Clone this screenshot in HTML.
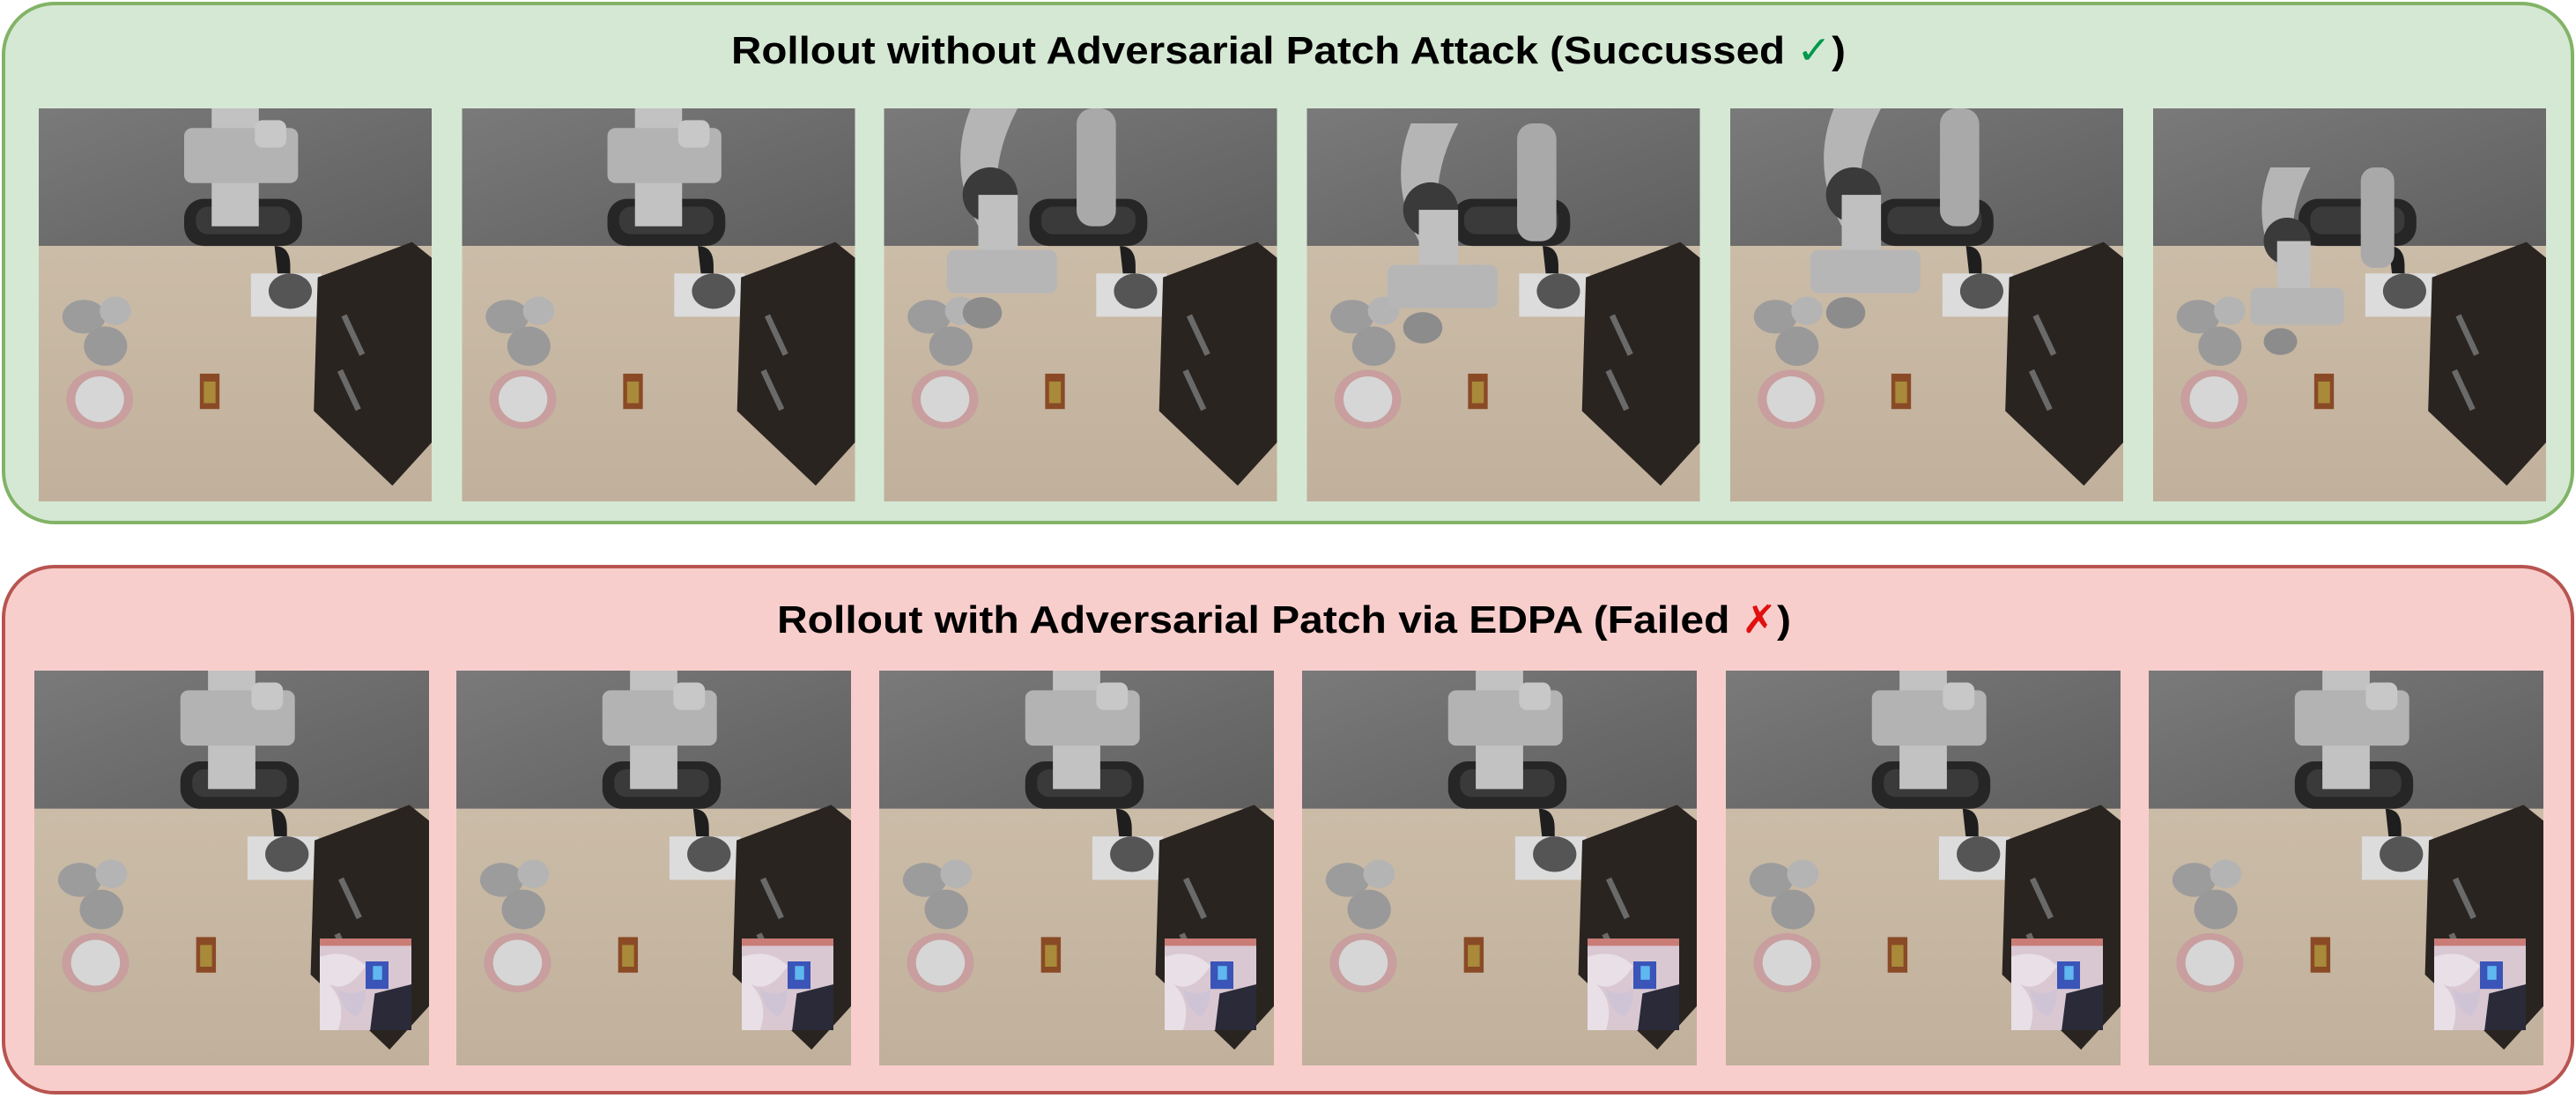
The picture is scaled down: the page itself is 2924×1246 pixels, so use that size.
<!DOCTYPE html>
<html><head><meta charset="utf-8"><style>
html,body{margin:0;padding:0;background:#fff;}
svg{display:block;}
text{font-family:"Liberation Sans",Arial,sans-serif;font-weight:bold;}
</style></head><body>
<svg width="2924" height="1246" viewBox="0 0 2924 1246" xmlns="http://www.w3.org/2000/svg">
<defs>
<linearGradient id="wall" x1="0" y1="0" x2="1" y2="1"><stop offset="0" stop-color="#7a7a7a"/><stop offset="1" stop-color="#5f5f5f"/></linearGradient>
<linearGradient id="floor" x1="0" y1="0" x2="0" y2="1"><stop offset="0" stop-color="#cbbca8"/><stop offset="1" stop-color="#c0b09c"/></linearGradient>
<symbol id="scene" viewBox="0 0 100 100">
<rect x="0" y="0" width="100" height="35" fill="url(#wall)"/>
<rect x="0" y="35" width="100" height="65" fill="url(#floor)"/>
<rect x="37" y="23" width="30" height="12" rx="5" fill="#262626"/>
<rect x="40" y="25" width="24" height="7" rx="3" fill="#3a3a3a"/>
<path d="M60 35 q4 0 4 5 v4 h-3 z" fill="#1e1e1e"/>
<rect x="54" y="42" width="18" height="11" fill="#dcdcdc"/>
<ellipse cx="64" cy="46.5" rx="5.5" ry="4.5" fill="#555"/>
<polygon points="71,43 95,34 100,38 100,85 90,96 70,77" fill="#2a2420"/>
<rect x="77" y="53" width="1.5" height="11" fill="#6a6a6a" transform="rotate(-25 77 53)"/>
<rect x="76" y="67" width="1.5" height="11" fill="#6a6a6a" transform="rotate(-25 76 67)"/>
<ellipse cx="11.5" cy="53" rx="5.5" ry="4.3" fill="#9c9c9c"/>
<ellipse cx="19.5" cy="51.5" rx="4" ry="3.6" fill="#b4b4b4"/>
<ellipse cx="17" cy="60.5" rx="5.5" ry="5" fill="#999"/>
<ellipse cx="15.5" cy="74" rx="8.5" ry="7.5" fill="#c89e9e"/>
<ellipse cx="15.5" cy="74" rx="6.2" ry="5.8" fill="#d6d6d6"/>
<rect x="41" y="67.5" width="5" height="9" fill="#8a4a26"/>
<rect x="42" y="69.5" width="3" height="5.5" fill="#a88a3a"/>
</symbol>
<symbol id="armUp" viewBox="0 0 100 100">
<rect x="44" y="0" width="12" height="30" fill="#c2c2c2"/>
<rect x="37" y="5" width="29" height="14" rx="2" fill="#b3b3b3"/>
<rect x="55" y="3" width="8" height="7" rx="2" fill="#c8c8c8"/>
</symbol>
<symbol id="armDown" viewBox="0 0 100 100">
<rect x="49" y="0" width="10" height="30" rx="4" fill="#a9a9a9"/>
<path d="M22 0 q-6 15 2 30 l6 0 q-4 -15 4 -30z" fill="#b5b5b5"/>
<circle cx="27" cy="22" r="7" fill="#3a3a3a"/>
<rect x="24" y="22" width="10" height="22" fill="#c0c0c0"/>
<rect x="16" y="36" width="28" height="11" rx="2" fill="#b6b6b6"/>
<ellipse cx="25" cy="52" rx="5" ry="4" fill="#8c8c8c"/>
</symbol>
<symbol id="patch" viewBox="0 0 100 100">
<rect width="100" height="100" fill="#d9c8d2"/>
<path d="M0 20 q30 -10 50 10 q-20 30 -40 20 q20 20 10 50 H0z" fill="#e9dfe6"/>
<rect x="50" y="25" width="25" height="30" fill="#3a54b8"/>
<rect x="58" y="30" width="10" height="15" fill="#5fb8f0"/>
<path d="M60 60 L100 50 V100 H55z" fill="#2a2a38"/>
<rect x="0" y="0" width="100" height="8" fill="#c04a3a" opacity=".6"/>
<path d="M20 55 q15 10 30 0 q0 20 -10 30 q-15 -5 -20 -30z" fill="#cfc4d6"/>
</symbol>
</defs>

<rect x="4" y="4" width="2916" height="589" rx="58" fill="#d5e8d4" stroke="#82b366" stroke-width="4"/>
<rect x="4" y="643" width="2916" height="597" rx="58" fill="#f8cecc" stroke="#b85450" stroke-width="4"/>

<text x="830" y="72" font-size="44" textLength="1265" lengthAdjust="spacingAndGlyphs" fill="#000">Rollout without Adversarial Patch Attack (Succussed <tspan fill="#00994d" font-weight="normal">✓</tspan>)</text>
<text x="882" y="718" font-size="44" textLength="1151" lengthAdjust="spacingAndGlyphs" fill="#000">Rollout with Adversarial Patch via EDPA (Failed <tspan fill="#e01010" font-weight="normal">✗</tspan>)</text>

<!-- top row -->
<use href="#scene" x="43" y="123" width="448" height="446"/><use href="#armUp" x="43" y="123" width="448" height="446"/>
<use href="#scene" x="524" y="123" width="447" height="446"/><use href="#armUp" x="524" y="123" width="447" height="446"/>
<use href="#scene" x="1003" y="123" width="447" height="446"/><use href="#armDown" x="1003" y="123" width="447" height="446"/>
<use href="#scene" x="1483" y="123" width="447" height="446"/><use href="#armDown" x="1503" y="140" width="447" height="446"/>
<use href="#scene" x="1963" y="123" width="448" height="446"/><use href="#armDown" x="1983" y="123" width="447" height="446"/>
<use href="#scene" x="2443" y="123" width="448" height="446"/><use href="#armDown" x="2460" y="190" width="447" height="380"/>

<!-- bottom row -->
<g>
<use href="#scene" x="39" y="761" width="448" height="448"/><use href="#armUp" x="39" y="761" width="448" height="448"/><use href="#patch" x="363" y="1061" width="104" height="112"/>
<use href="#scene" x="518" y="761" width="448" height="448"/><use href="#armUp" x="518" y="761" width="448" height="448"/><use href="#patch" x="842" y="1061" width="104" height="112"/>
<use href="#scene" x="998" y="761" width="448" height="448"/><use href="#armUp" x="998" y="761" width="448" height="448"/><use href="#patch" x="1322" y="1061" width="104" height="112"/>
<use href="#scene" x="1478" y="761" width="448" height="448"/><use href="#armUp" x="1478" y="761" width="448" height="448"/><use href="#patch" x="1802" y="1061" width="104" height="112"/>
<use href="#scene" x="1959" y="761" width="448" height="448"/><use href="#armUp" x="1959" y="761" width="448" height="448"/><use href="#patch" x="2283" y="1061" width="104" height="112"/>
<use href="#scene" x="2439" y="761" width="448" height="448"/><use href="#armUp" x="2439" y="761" width="448" height="448"/><use href="#patch" x="2763" y="1061" width="104" height="112"/>
</g>
</svg>
</body></html>
